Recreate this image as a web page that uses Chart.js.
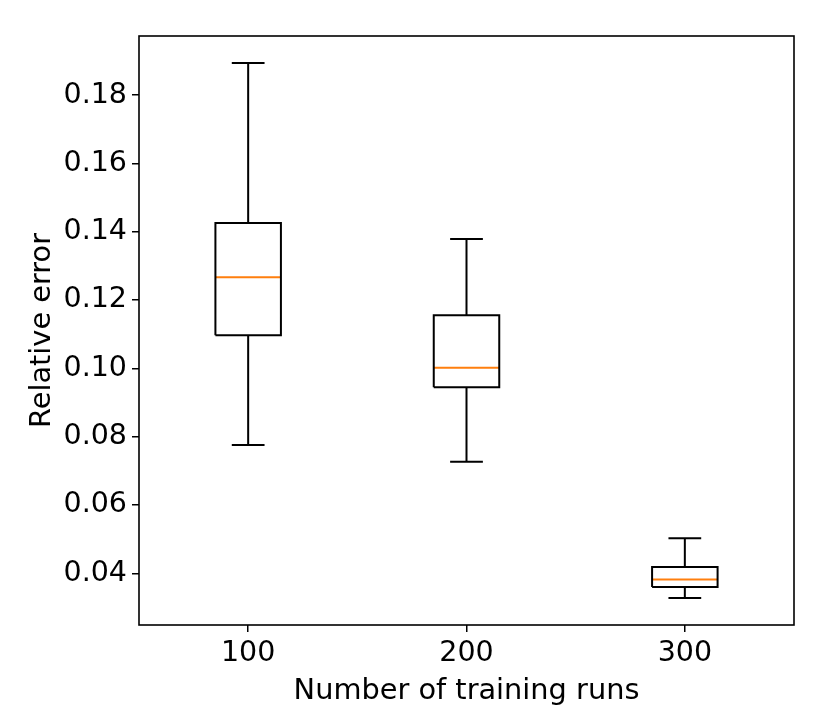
<!DOCTYPE html>
<html>
<head>
<meta charset="utf-8">
<script src="https://cdn.jsdelivr.net/npm/chart.js@4.4.1/dist/chart.umd.min.js"></script>
<style>
  html, body { margin: 0; padding: 0; background: #fff; }
  #wrap { width: 830px; height: 727px; }
</style>
</head>
<body>
<div id="wrap"><canvas id="boxChart"></canvas></div>
<script>
// ===============================
// Data
// ===============================
const runLabels = ["100", "200", "300"];
const whiskerLow = [0.0776, 0.0727, 0.0328];
const boxQ1 = [0.1097, 0.0945, 0.0360];
const boxMedian = [0.1267, 0.1002, 0.0382];
const boxQ3 = [0.1426, 0.1156, 0.0419];
const whiskerHigh = [0.1894, 0.1379, 0.0503];
const yTicks = [0.04, 0.06, 0.08, 0.10, 0.12, 0.14, 0.16, 0.18];

// box half width and cap half width, in x-axis units
const BOX_HALF = 0.15;
const CAP_HALF = 0.075;

const FONT = "'DejaVu Sans', 'Liberation Sans', sans-serif";
const GAP = p => ({ x: p, y: null });

// ===============================
// Build line paths from the values
// ===============================
const boxPts = [];
const whiskerPts = [];
const medianPts = [];

runLabels.forEach((lab, i) => {
  const p = i + 1;
  boxPts.push(
    { x: p - BOX_HALF, y: boxQ1[i] },
    { x: p + BOX_HALF, y: boxQ1[i] },
    { x: p + BOX_HALF, y: boxQ3[i] },
    { x: p - BOX_HALF, y: boxQ3[i] },
    { x: p - BOX_HALF, y: boxQ1[i] },
    GAP(p)
  );
  whiskerPts.push(
    { x: p, y: boxQ3[i] }, { x: p, y: whiskerHigh[i] }, GAP(p),
    { x: p - CAP_HALF, y: whiskerHigh[i] }, { x: p + CAP_HALF, y: whiskerHigh[i] }, GAP(p),
    { x: p, y: boxQ1[i] }, { x: p, y: whiskerLow[i] }, GAP(p),
    { x: p - CAP_HALF, y: whiskerLow[i] }, { x: p + CAP_HALF, y: whiskerLow[i] }, GAP(p)
  );
  medianPts.push(
    { x: p - BOX_HALF, y: boxMedian[i] },
    { x: p + BOX_HALF, y: boxMedian[i] },
    GAP(p)
  );
});

const lineSet = (data, color) => ({
  data: data,
  showLine: true,
  spanGaps: false,
  borderColor: color,
  borderWidth: 2,
  pointRadius: 0,
  pointHoverRadius: 0,
  fill: false,
  tension: 0
});

// frame round the plot area (matplotlib style)
const frame = {
  id: "frame",
  afterDraw(chart) {
    const a = chart.chartArea;
    const c = chart.ctx;
    c.save();
    c.strokeStyle = "#000";
    c.lineWidth = 1.6;
    c.strokeRect(a.left, a.top, a.right - a.left, a.bottom - a.top);
    c.restore();
  }
};

const ctx = document.getElementById("boxChart");
new Chart(ctx, {
  type: "scatter",
  data: {
    datasets: [
      lineSet(whiskerPts, "#000"),
      lineSet(boxPts, "#000"),
      lineSet(medianPts, "#ff7f0e")
    ]
  },
  options: {
    responsive: true,
    maintainAspectRatio: false,
    animation: false,
    layout: { padding: { top: 36, right: 36, left: 0, bottom: 0 } },
    plugins: {
      legend: { display: false },
      tooltip: { enabled: false }
    },
    scales: {
      x: {
        type: "linear",
        min: 0.5,
        max: 3.5,
        afterBuildTicks: s => { s.ticks = runLabels.map((l, i) => ({ value: i + 1 })); },
        afterFit: s => { s.height = 102; },
        ticks: {
          color: "#000",
          font: { family: FONT, size: 28.5 },
          padding: 4,
          maxRotation: 0,
          callback: (v, i) => runLabels[i]
        },
        grid: { drawOnChartArea: false, color: "#000", tickLength: 7, lineWidth: 1.5 },
        border: { display: false },
        title: {
          display: true,
          text: "Number of training runs",
          color: "#000",
          font: { family: FONT, size: 28.8 },
          padding: 18
        }
      },
      y: {
        type: "linear",
        min: 0.0249,
        max: 0.1973,
        afterBuildTicks: s => { s.ticks = yTicks.map(v => ({ value: v })); },
        afterFit: s => { s.width = 139; },
        ticks: {
          color: "#000",
          font: { family: FONT, size: 28.5 },
          padding: 5,
          callback: v => Number(v).toFixed(2)
        },
        grid: { drawOnChartArea: false, color: "#000", tickLength: 7, lineWidth: 1.5 },
        border: { display: false },
        title: {
          display: true,
          text: "Relative error",
          color: "#000",
          font: { family: FONT, size: 28.8 },
          padding: 25
        }
      }
    }
  },
  plugins: [frame]
});
</script>
</body>
</html>
